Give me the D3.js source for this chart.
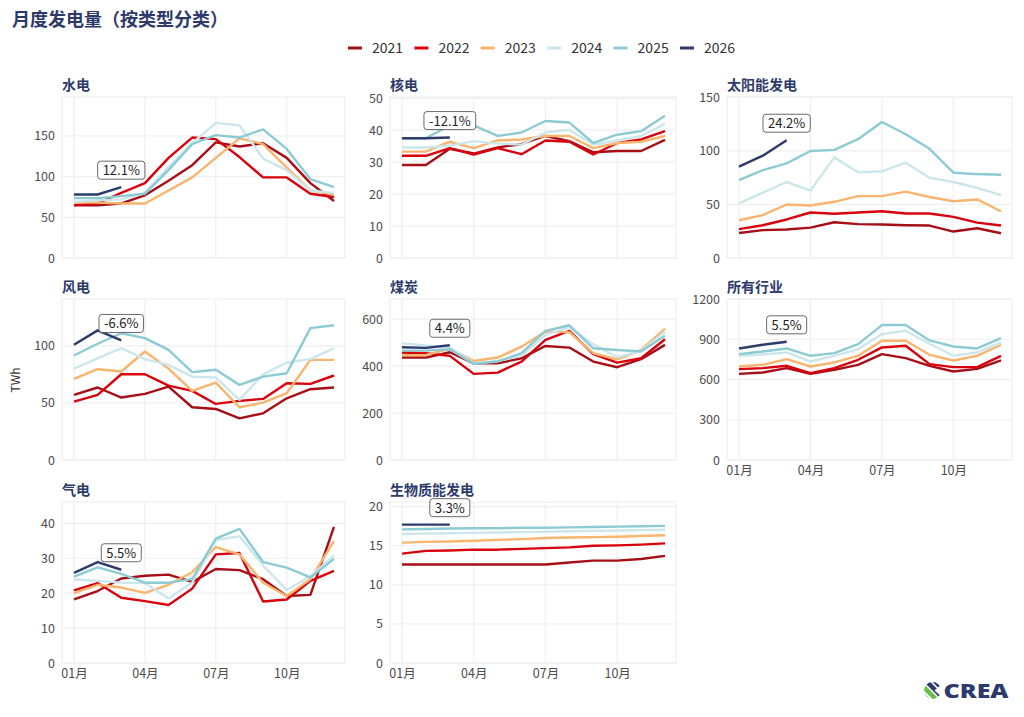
<!DOCTYPE html>
<html>
<head>
<meta charset="utf-8">
<script src="https://cdn.jsdelivr.net/npm/d3@7"></script>
<style>
  body { margin: 0; background: #fff; }
  svg { display: block; font-family: "Noto Sans CJK SC", "Noto Sans", sans-serif; }
</style>
</head>
<body>
<svg id="chart" width="1024" height="717"></svg>
<script>
// 年份与颜色
const years = ["2021", "2022", "2023", "2024", "2025", "2026"];
const yearColors = ["#a50f15", "#d9000d", "#f9b46e", "#cce7ec", "#8ccbd3", "#2d3c6d"];
const months = [1, 2, 3, 4, 5, 6, 7, 8, 9, 10, 11, 12];
const monthTicks = [1, 4, 7, 10];
const monthLabels = ["01月", "04月", "07月", "10月"];

// 各类型数据 (TWh), 每行一个年份
const hydro = [
  [64.6, 64.6, 67, 77, 95, 114, 142, 137, 141, 123, 92, 70],
  [65, 67, 80, 92, 123, 148, 146, 124, 99, 99, 79, 75],
  [68, 68, 67, 67, 83, 99, 123, 147, 140, 111, 83, 78],
  [69, 71, 72, 80, 112, 141, 166, 163, 122, 108, 83, 80],
  [73.5, 73.5, 76, 79, 108, 140, 151, 148, 158, 134, 97, 87],
  [78, 78, 87]
];
const nuclear = [
  [29.1, 29.1, 34.2, 32.7, 34.6, 35.7, 38.2, 36.6, 33.1, 33.5, 33.5, 37],
  [32, 32, 34.4, 32.4, 34.4, 32.5, 36.8, 36.4, 32.4, 36, 37.1, 39.7],
  [33.3, 33.3, 36.4, 34.4, 36.8, 37.1, 38.2, 38.2, 34.4, 36, 36.4, 38.2],
  [34.6, 34.6, 35.2, 36.6, 35.8, 35.5, 39.3, 40.1, 35.5, 36.8, 38.2, 42],
  [37.5, 37.5, 41.5, 41.5, 38.2, 39.3, 42.9, 42.4, 36, 38.6, 39.7, 44.5],
  [37.5, 37.5, 37.7]
];
const solar = [
  [23.4, 26, 26.6, 28.4, 33.4, 31.6, 31.3, 30.6, 30.3, 24.7, 27.8, 23.1],
  [27, 30.6, 36, 42.5, 41.3, 42.5, 43.7, 41.6, 41.6, 38.4, 33, 30.3],
  [35.3, 40, 50, 49, 52.5, 57.8, 57.8, 62, 57, 53, 54.7, 43.7],
  [51, 61, 71, 63, 94, 80, 81, 89, 75, 71, 65.6, 58.8],
  [72.8, 82, 88.4, 100, 101, 111, 127, 115.6, 102, 79.7, 78.4, 77.8],
  [85.3, 95.6, 110]
];
const wind = [
  [57, 63.5, 54.7, 57.9, 64.3, 46.2, 44.7, 36.5, 40.9, 54, 62, 63.5],
  [51.2, 57, 75.1, 75.1, 65.2, 60.5, 49.1, 51.8, 53.5, 67.2, 66.7, 74],
  [71, 79.5, 77.5, 95, 80, 60.5, 67.8, 46.2, 50.3, 58.5, 87.7, 87.7],
  [80, 89, 98, 88.3, 83.3, 73, 72.2, 52.6, 75, 85.4, 88.3, 98],
  [91.5, 101.8, 111, 106.7, 96.5, 77, 79, 65.8, 73, 76, 115.5, 118],
  [101, 113.5, 104.7]
];
const coal = [
  [436.5, 436.5, 459, 412, 412, 433.7, 486, 479, 419.5, 395.3, 429.4, 490.5],
  [458, 455, 443.6, 367, 372.5, 419.5, 512, 550, 450.7, 415, 433.7, 514.7],
  [446.5, 446.5, 475, 422, 436.5, 483, 547, 544.6, 455, 429, 469, 560],
  [497.6, 487.7, 480.6, 412, 422, 443.6, 533, 566, 493, 438, 465, 547],
  [466, 466, 472, 409.5, 419.5, 455, 550, 574, 476, 469, 462, 529],
  [480.6, 477.7, 489]
];
const allSectors = [
  [642, 652, 684.6, 642, 672, 709.5, 789, 759, 702, 659.7, 679.6, 741.8],
  [677, 684.6, 702, 647, 684.6, 746.8, 839, 851.4, 714.5, 692, 692, 776.7],
  [697, 709.5, 751.8, 697, 727, 776.7, 888.7, 888.7, 784, 741.8, 776.7, 858.8],
  [776.7, 786.7, 801.6, 734, 776.7, 826.5, 938.5, 963, 866.3, 776.7, 801.6, 876],
  [789, 809, 831.5, 776.7, 796.6, 864, 1005.7, 1005.7, 891, 846, 831.5, 908.6],
  [831.5, 859, 881]
];
const gas = [
  [18.2, 20.6, 24.2, 25, 25.3, 23.2, 26.9, 26.6, 24, 19.2, 19.5, 39],
  [20.8, 22.9, 18.7, 17.7, 16.6, 21.3, 31.1, 31.5, 17.6, 18.2, 23.5, 26.4],
  [20, 22.4, 21.6, 20.1, 22.4, 26, 33.2, 31.1, 23, 19.2, 24, 34.9],
  [24, 23.5, 23, 22.9, 18.5, 23, 35.2, 36.3, 27.9, 20.9, 24.8, 30.8],
  [24.7, 27.4, 25.5, 23, 23, 24, 35.6, 38.4, 28.9, 27.3, 24.5, 29.8],
  [25.8, 28.9, 26.7]
];
const biomass = [
  [12.6, 12.6, 12.6, 12.6, 12.6, 12.6, 12.6, 12.85, 13.1, 13.1, 13.3, 13.7],
  [14.0, 14.35, 14.4, 14.5, 14.5, 14.6, 14.7, 14.8, 15.0, 15.05, 15.15, 15.3],
  [15.4, 15.5, 15.55, 15.65, 15.75, 15.85, 16.0, 16.05, 16.1, 16.15, 16.25, 16.35],
  [16.5, 16.55, 16.6, 16.65, 16.7, 16.75, 16.8, 16.85, 16.9, 16.95, 17.0, 17.05],
  [17.1, 17.15, 17.2, 17.25, 17.25, 17.3, 17.3, 17.35, 17.4, 17.45, 17.5, 17.55],
  [17.7, 17.7, 17.7]
];

// 面板: 标题, 数据, y轴上限, 刻度, 同比变化
const panelTitles = ["水电", "核电", "太阳能发电", "风电", "煤炭", "所有行业", "气电", "生物质能发电"];
const panelData = [hydro, nuclear, solar, wind, coal, allSectors, gas, biomass];
const panelYMax = [197.8, 50.4, 150.4, 141, 686, 1200, 46.1, 20.6];
const panelTicks = [
  [0, 50, 100, 150], [0, 10, 20, 30, 40, 50], [0, 50, 100, 150], [0, 50, 100],
  [0, 200, 400, 600], [0, 300, 600, 900, 1200], [0, 10, 20, 30, 40], [0, 5, 10, 15, 20]
];
const panelChange = ["12.1%", "-12.1%", "24.2%", "-6.6%", "4.4%", "5.5%", "5.5%", "3.3%"];

const titleColor = "#2d3a6b";
const tickColor = "#4d4d4d";
const gridColor = "#efefef";

const svg = d3.select("#chart");

// 总标题
svg.append("text")
  .attr("x", 12).attr("y", 26)
  .style("font-size", "18px").style("font-weight", "bold")
  .style("fill", titleColor)
  .text("月度发电量（按类型分类）");

// 图例
const legend = svg.append("g").attr("transform", "translate(348,48)");
years.forEach((yr, i) => {
  const g = legend.append("g").attr("transform", `translate(${i * 66.4},0)`);
  g.append("line").attr("x1", 0).attr("x2", 14).attr("y1", 0).attr("y2", 0)
    .attr("stroke", yearColors[i]).attr("stroke-width", 3);
  g.append("text").attr("x", 24).attr("y", 5)
    .style("font-size", "14px").style("fill", "#333").text(yr);
});

// 面板位置
const colLeft = [62, 390, 727];
const colRight = [345, 676, 1012];
const rowTop = [97, 299, 502];
const rowBottom = [258, 460, 663];

panelTitles.forEach((title, p) => {
  const col = p % 3;
  const row = Math.floor(p / 3);
  const left = colLeft[col], right = colRight[col];
  const top = rowTop[row], bottom = rowBottom[row];

  const x = d3.scaleLinear().domain([1, 12]).range([left + 12, right - 11]);
  const y = d3.scaleLinear().domain([0, panelYMax[p]]).range([bottom, top]);

  const g = svg.append("g");

  // 标题
  g.append("text")
    .attr("x", left).attr("y", top - 7)
    .style("font-size", "14px").style("font-weight", "bold")
    .style("fill", titleColor)
    .text(title);

  // 边框
  g.append("rect")
    .attr("x", left).attr("y", top)
    .attr("width", right - left).attr("height", bottom - top)
    .attr("fill", "none").attr("stroke", gridColor).attr("stroke-width", 1.2);

  // 网格线
  g.selectAll(".hgrid").data(panelTicks[p]).enter().append("line")
    .attr("x1", left).attr("x2", right)
    .attr("y1", (d) => y(d)).attr("y2", (d) => y(d))
    .attr("stroke", gridColor).attr("stroke-width", 1.2);
  g.selectAll(".vgrid").data(monthTicks).enter().append("line")
    .attr("x1", (d) => x(d)).attr("x2", (d) => x(d))
    .attr("y1", top).attr("y2", bottom)
    .attr("stroke", gridColor).attr("stroke-width", 1.2);

  // Y轴
  const yAxis = g.append("g")
    .attr("transform", `translate(${left},0)`)
    .call(d3.axisLeft(y).tickValues(panelTicks[p]).tickFormat(d3.format("d"))
      .tickSize(0).tickPadding(7));
  yAxis.select(".domain").remove();
  yAxis.selectAll("text")
    .style("font-size", "12.5px").style("fill", tickColor)
    .style("font-family", "'Noto Sans CJK SC', sans-serif");

  // X轴 (只在底部面板)
  if (row === 2 || p === 5) {
    const xAxis = g.append("g")
      .attr("transform", `translate(0,${bottom})`)
      .call(d3.axisBottom(x).tickValues(monthTicks)
        .tickFormat((d, i) => monthLabels[i]).tickSize(0).tickPadding(6));
    xAxis.select(".domain").remove();
    xAxis.selectAll("text")
      .style("font-size", "12.5px").style("fill", tickColor)
      .style("font-family", "'Noto Sans CJK SC', sans-serif");
  }

  // 折线
  const line = d3.line()
    .x((d, i) => x(months[i]))
    .y((d) => y(d));

  panelData[p].forEach((series, i) => {
    g.append("path")
      .datum(series)
      .attr("d", line)
      .attr("fill", "none")
      .attr("stroke", yearColors[i])
      .attr("stroke-width", 2.4)
      .attr("stroke-linejoin", "round");
  });

  // 同比标签
  const last = panelData[p][5];
  const lx = x(months[last.length - 1]);
  const ly = y(last[last.length - 1]) - 17;
  const lab = g.append("g");
  const txt = lab.append("text")
    .attr("x", lx).attr("y", ly + 5)
    .attr("text-anchor", "middle")
    .style("font-size", "13px").style("fill", "#222")
    .text(panelChange[p]);
  const bb = txt.node().getBBox();
  lab.insert("rect", "text")
    .attr("x", bb.x - 5).attr("y", ly - 9)
    .attr("width", bb.width + 10).attr("height", 18)
    .attr("rx", 3)
    .attr("fill", "#fff").attr("stroke", "#444").attr("stroke-width", 0.8);
});

// Y轴标签
svg.append("text")
  .attr("transform", "translate(20,380) rotate(-90)")
  .attr("text-anchor", "middle")
  .style("font-size", "12px").style("fill", "#333")
  .text("TWh");

// CREA 标志
const logo = svg.append("g").attr("transform", "translate(932.5,690.5)");
const defs = svg.append("defs");
defs.append("clipPath").attr("id", "logoClip")
  .append("circle").attr("cx", 0).attr("cy", 0).attr("r", 8.5);
const stripes = logo.append("g").attr("clip-path", "url(#logoClip)");
const stripeColors = ["#8ccbd3", "#6abf4b", "#2d3a6b", "#2d3a6b"];
stripeColors.forEach((c, i) => {
  stripes.append("rect")
    .attr("x", -12 + i * 6).attr("y", -16)
    .attr("width", 4.5).attr("height", 32)
    .attr("transform", "rotate(-45)")
    .attr("fill", c);
});
// C 开口
logo.append("path")
  .attr("d", "M2,0 L10,-7 L10,7 Z")
  .attr("fill", "#fff");
logo.append("text")
  .attr("x", 11).attr("y", 7)
  .attr("textLength", 65).attr("lengthAdjust", "spacingAndGlyphs")
  .style("font-size", "19px").style("font-weight", "900")
  .style("fill", "#2d3a6b")
  .style("font-family", "'Open Sans', 'DejaVu Sans', sans-serif")
  .text("CREA");
</script>
</body>
</html>
